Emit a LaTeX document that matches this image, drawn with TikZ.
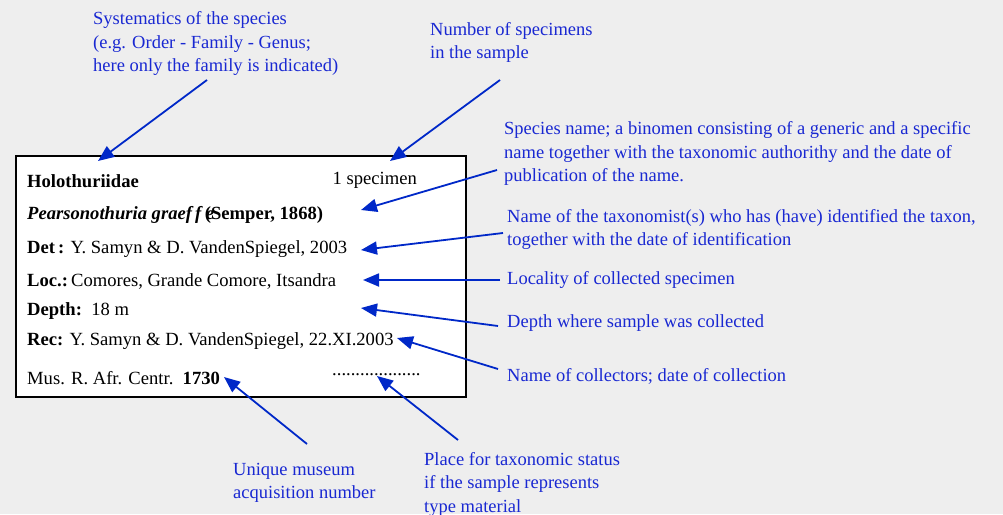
\documentclass[tikz,border=0pt]{standalone}
\usepackage{fontspec}
\setmainfont{Liberation Serif}
\usetikzlibrary{arrows.meta}
\definecolor{notecol}{RGB}{25,40,210}
\definecolor{arrowcol}{RGB}{0,40,200}
\definecolor{bgcol}{RGB}{238,238,238}

\tikzset{
  note/.style = {anchor=west, inner sep=0pt, align=left, text=notecol,
    font=\fontsize{18.5pt}{23.5pt}\selectfont},
  labline/.style = {anchor=west, inner sep=0pt, font=\fontsize{18.6pt}{22pt}\selectfont},
  pointer/.style = {draw=arrowcol, line width=1.8pt,
    -{Triangle[length=16pt,width=13pt]}}
}

\begin{document}
\begin{tikzpicture}[x=1pt, y=-1pt]
	\useasboundingbox[fill=bgcol] (0,0) rectangle (1003,514);
	% the label
	\draw[fill=white, line width=1.2pt] (16,156) rectangle (466,397);
	\node[labline] (fam) at (27,181) {\textbf{Holothuriidae}};
	\node[labline, anchor=east] (cnt) at (417,180) {1 specimen};
	\node[labline] (spn) at (27,215) {\textbf{\textit{Pearsonothuria graef\,f e}}\hspace{-0.5em}\textbf{(Semper, 1868)}};
	\node[labline] (det) at (27,249) {\textbf{Det\,:} Y. Samyn \& D. VandenSpiegel, 2003};
	\node[labline] (loc) at (27,281) {\textbf{Loc.:}\,Comores, Grande Comore, Itsandra};
	\node[labline] (dep) at (27,311) {\textbf{Depth:}\, 18 m};
	\node[labline] (rec) at (27,341) {\textbf{Rec:} Y. Samyn \& D. VandenSpiegel, 22.XI.2003};
	\node[labline] (mus) at (27,378) {Mus. R. Afr. Centr.\ \ \textbf{1730}};
	\node[labline] (stat) at (332,375) {...................};

	% explanations
	\node[note] (sys) at (93,43.5) {Systematics of the species\\(e.g. Order - Family - Genus;\\here only the family is indicated)};
	\node[note] (num) at (430,42.5) {Number of specimens\\in the sample};
	\node[note] (spc) at (504,153.5) {Species name; a binomen consisting of a generic and a specific\\name together with the taxonomic authorithy and the date of\\publication of the name.};
	\node[note] (idn) at (507,229.5) {Name of the taxonomist(s) who has (have) identified the taxon,\\together with the date of identification};
	\node[note] (lty) at (507,280) {Locality of collected specimen};
	\node[note] (dpt) at (507,323) {Depth where sample was collected};
	\node[note] (col) at (507,376) {Name of collectors; date of collection};
	\node[note] (acq) at (233,483) {Unique museum\\acquisition number};
	\node[note] (typ) at (424,484) {Place for taxonomic status\\if the sample represents\\type material};

	% arrow ends
	\coordinate (sys-a) at (207,80);   \coordinate (sys-b) at (98,161);
	\coordinate (num-a) at (500,80);   \coordinate (num-b) at (390,161);
	\coordinate (spc-a) at (497,170);  \coordinate (spc-b) at (361,210);
	\coordinate (idn-a) at (503,233);  \coordinate (idn-b) at (361,250);
	\coordinate (lty-a) at (500,280);  \coordinate (lty-b) at (363,280);
	\coordinate (dpt-a) at (498,326);  \coordinate (dpt-b) at (361,308);
	\coordinate (col-a) at (498,369);  \coordinate (col-b) at (397,338);
	\coordinate (acq-a) at (307,444);  \coordinate (acq-b) at (224,377);
	\coordinate (typ-a) at (458,440);  \coordinate (typ-b) at (377,376);

	\foreach \n in {sys,num,spc,idn,lty,dpt,col,acq,typ}
		\draw[pointer] (\n-a) -- (\n-b);
\end{tikzpicture}
\end{document}
